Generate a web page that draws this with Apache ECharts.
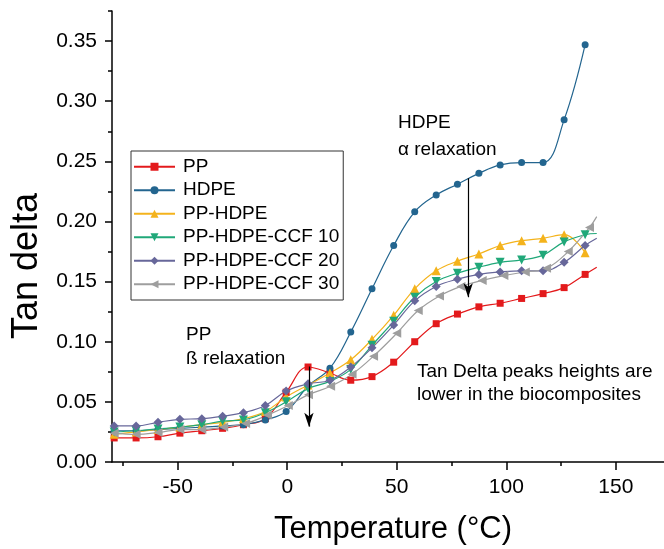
<!DOCTYPE html>
<html>
<head>
<meta charset="utf-8">
<script src="https://cdn.jsdelivr.net/npm/echarts@6/dist/echarts.min.js"></script>
<style>
html,body{margin:0;padding:0;background:#fff;}
#chart{width:664px;height:549px;}
</style>
</head>
<body>
<div id="chart"></div>
<script>
// ---- data ----
const temps = [-79, -69, -59, -49, -39, -29.5, -20, -10, -0.5, 9.5, 19.5, 29, 38.7, 48.6, 58.2, 68, 77.7, 87.5, 97.2, 107, 116.8, 126.4, 136];
const ppVals     = [0.020, 0.020, 0.021, 0.024, 0.026, 0.028, 0.031, 0.036, 0.058, 0.079, 0.074, 0.068, 0.071, 0.083, 0.100, 0.115, 0.123, 0.129, 0.132, 0.136, 0.140, 0.145, 0.156];
const hdpeVals   = [0.026, 0.026, 0.027, 0.028, 0.029, 0.030, 0.031, 0.035, 0.042, 0.063, 0.078, 0.108, 0.144, 0.180, 0.208, 0.222, 0.231, 0.240, 0.247, 0.249, 0.249, 0.2845, 0.347];
const ppHdpeVals = [0.023, 0.025, 0.027, 0.029, 0.031, 0.033, 0.036, 0.042, 0.054, 0.064, 0.074, 0.085, 0.102, 0.122, 0.144, 0.159, 0.167, 0.173, 0.180, 0.184, 0.186, 0.189, 0.174];
const ccf10Vals  = [0.025, 0.026, 0.0275, 0.029, 0.031, 0.034, 0.035, 0.041, 0.050, 0.061, 0.067, 0.077, 0.097, 0.117, 0.137, 0.150, 0.157, 0.162, 0.166, 0.168, 0.172, 0.183, 0.189];
const ccf20Vals  = [0.030, 0.030, 0.033, 0.0355, 0.036, 0.038, 0.041, 0.047, 0.059, 0.065, 0.068, 0.079, 0.095, 0.114, 0.134, 0.146, 0.152, 0.156, 0.158, 0.159, 0.159, 0.166, 0.180];
const ccf30Temps = [-79, -69, -59, -49, -39, -29, -19, -9, 0.5, 9.7, 19.8, 29.6, 39.4, 50, 59.8, 69.5, 79.3, 89, 98.9, 108.7, 118.4, 128.3, 138];
const ccf30Vals  = [0.024, 0.023, 0.0245, 0.027, 0.027, 0.029, 0.032, 0.039, 0.047, 0.056, 0.063, 0.073, 0.088, 0.107, 0.126, 0.138, 0.146, 0.151, 0.155, 0.158, 0.161, 0.175, 0.195];
// last points of the curves that carry no marker
const tailTemp = 141.3;
const ppTail = 0.162;
const ccf10Tail = 0.190;
const ccf20Tail = 0.186;
const ccf30Tail = 0.204;
// series names
const seriesNames = ['PP', 'HDPE', 'PP-HDPE', 'PP-HDPE-CCF 10', 'PP-HDPE-CCF 20', 'PP-HDPE-CCF 30'];
// tick labels
const xTickLabels = [-50, 0, 50, 100, 150];
const xMinorTicks = [-75, -25, 25, 75, 125];
const yTickLabels = [0, 0.05, 0.10, 0.15, 0.20, 0.25, 0.30, 0.35];
const yMinorTicks = [0.025, 0.075, 0.125, 0.175, 0.225, 0.275, 0.325, 0.375];
// arrows [temperature, from, to]
const hdpeArrow = [82.6, 0.236, 0.137];
const ppArrow = [9.9, 0.0794, 0.0294];

const FONT = "'Liberation Sans', Arial, Helvetica, sans-serif";

function buildData(xs, ys, tail) {
  const d = xs.map((t, i) => [t, ys[i]]);
  if (tail !== null) d.push({ value: [tailTemp, tail], symbolSize: 0 });
  return d;
}

function mkSeries(name, data, color, symbol, size, rotate, extra) {
  return Object.assign({
    name: name,
    type: 'line',
    data: data,
    smooth: 0.4,
    symbol: symbol,
    symbolSize: size,
    symbolRotate: rotate,
    showAllSymbol: true,
    xAxisIndex: 0,
    yAxisIndex: 0,
    lineStyle: { color: color, width: 1.2 },
    itemStyle: { color: color },
    z: 3
  }, extra || {});
}

function arrowLine(a) {
  return {
    silent: true,
    symbol: ['none', 'arrow'],
    symbolSize: [7, 14],
    label: { show: false },
    lineStyle: { color: '#000', width: 1.2, type: 'solid' },
    data: [[{ coord: [a[0], a[1]] }, { coord: [a[0], a[2]] }]]
  };
}

const chart = echarts.init(document.getElementById('chart'), null, { renderer: 'canvas' });

const option = {
  animation: false,
  backgroundColor: '#fff',
  textStyle: { fontFamily: FONT },
  grid: { left: 112, right: 0, top: 11, bottom: 87, containLabel: false },
  legend: {
    orient: 'vertical',
    left: 131,
    top: 151,
    padding: [5, 4, 5, 2],
    borderColor: '#333',
    borderWidth: 1,
    itemWidth: 41,
    itemHeight: 10,
    itemGap: 2,
    textStyle: { fontSize: 19, lineHeight: 21.5, color: '#000', fontFamily: FONT, padding: [0, 0, 0, 3] },
    data: seriesNames
  },
  xAxis: [{
    type: 'value', min: -80, max: 172, position: 'bottom',
    axisLine: { show: true, onZero: false, lineStyle: { color: '#000', width: 1.5 } },
    axisTick: { show: true, customValues: xTickLabels, length: 8, lineStyle: { color: '#000', width: 1.5 } },
    axisLabel: { customValues: xTickLabels, fontSize: 21, color: '#000', margin: 15, fontFamily: FONT },
    splitLine: { show: false }
  }, {
    type: 'value', min: -80, max: 172, position: 'bottom',
    axisLine: { show: false, onZero: false },
    axisTick: { show: true, customValues: xMinorTicks, length: 4, lineStyle: { color: '#000', width: 1.5 } },
    axisLabel: { show: false },
    splitLine: { show: false }
  }],
  yAxis: [{
    type: 'value', min: 0, max: 0.375, position: 'left',
    axisLine: { show: true, onZero: false, lineStyle: { color: '#000', width: 1.5 } },
    axisTick: { show: true, customValues: yTickLabels, length: 7, lineStyle: { color: '#000', width: 1.5 } },
    axisLabel: { customValues: yTickLabels, fontSize: 21, color: '#000', margin: 15, fontFamily: FONT,
      formatter: v => Number(v).toFixed(2) },
    splitLine: { show: false }
  }, {
    type: 'value', min: 0, max: 0.375, position: 'left',
    axisLine: { show: false, onZero: false },
    axisTick: { show: true, customValues: yMinorTicks, length: 4, lineStyle: { color: '#000', width: 1.5 } },
    axisLabel: { show: false },
    splitLine: { show: false }
  }],
  series: [
    mkSeries(seriesNames[0], buildData(temps, ppVals, ppTail), '#e31a1c', 'rect', 7, 0, { markLine: arrowLine(ppArrow) }),
    mkSeries(seriesNames[1], buildData(temps, hdpeVals, null), '#23658f', 'circle', 7, 0, { markLine: arrowLine(hdpeArrow) }),
    mkSeries(seriesNames[2], buildData(temps, ppHdpeVals, null), '#f4b31c', 'triangle', 9, 0),
    mkSeries(seriesNames[3], buildData(temps, ccf10Vals, ccf10Tail), '#20a879', 'triangle', 9, 180),
    mkSeries(seriesNames[4], buildData(temps, ccf20Vals, ccf20Tail), '#67679a', 'diamond', 9, 0),
    mkSeries(seriesNames[5], buildData(ccf30Temps, ccf30Vals, ccf30Tail), '#9e9e9e', 'triangle', 9, 90)
  ],
  graphic: [
    { type: 'text', x: 27.5, y: 266, rotation: Math.PI / 2,
      style: { text: 'Tan delta', font: "36px " + FONT, fill: '#000', textAlign: 'center', textVerticalAlign: 'middle' } },
    { type: 'text', x: 393, y: 529,
      style: { text: 'Temperature (°C)', font: "31px " + FONT, fill: '#000', textAlign: 'center', textVerticalAlign: 'middle' } },
    { type: 'text', x: 398, y: 123,
      style: { text: 'HDPE', font: "19px " + FONT, fill: '#000', textAlign: 'left', textVerticalAlign: 'middle' } },
    { type: 'text', x: 398, y: 150,
      style: { text: 'α relaxation', font: "19px " + FONT, fill: '#000', textAlign: 'left', textVerticalAlign: 'middle' } },
    { type: 'text', x: 186, y: 335,
      style: { text: 'PP', font: "19px " + FONT, fill: '#000', textAlign: 'left', textVerticalAlign: 'middle' } },
    { type: 'text', x: 186, y: 359,
      style: { text: 'ß relaxation', font: "19px " + FONT, fill: '#000', textAlign: 'left', textVerticalAlign: 'middle' } },
    { type: 'text', x: 417, y: 372,
      style: { text: 'Tan Delta peaks heights are', font: "19px " + FONT, fill: '#000', textAlign: 'left', textVerticalAlign: 'middle' } },
    { type: 'text', x: 417, y: 395,
      style: { text: 'lower in the biocomposites', font: "19px " + FONT, fill: '#000', textAlign: 'left', textVerticalAlign: 'middle' } }
  ]
};

chart.setOption(option);
</script>
</body>
</html>
